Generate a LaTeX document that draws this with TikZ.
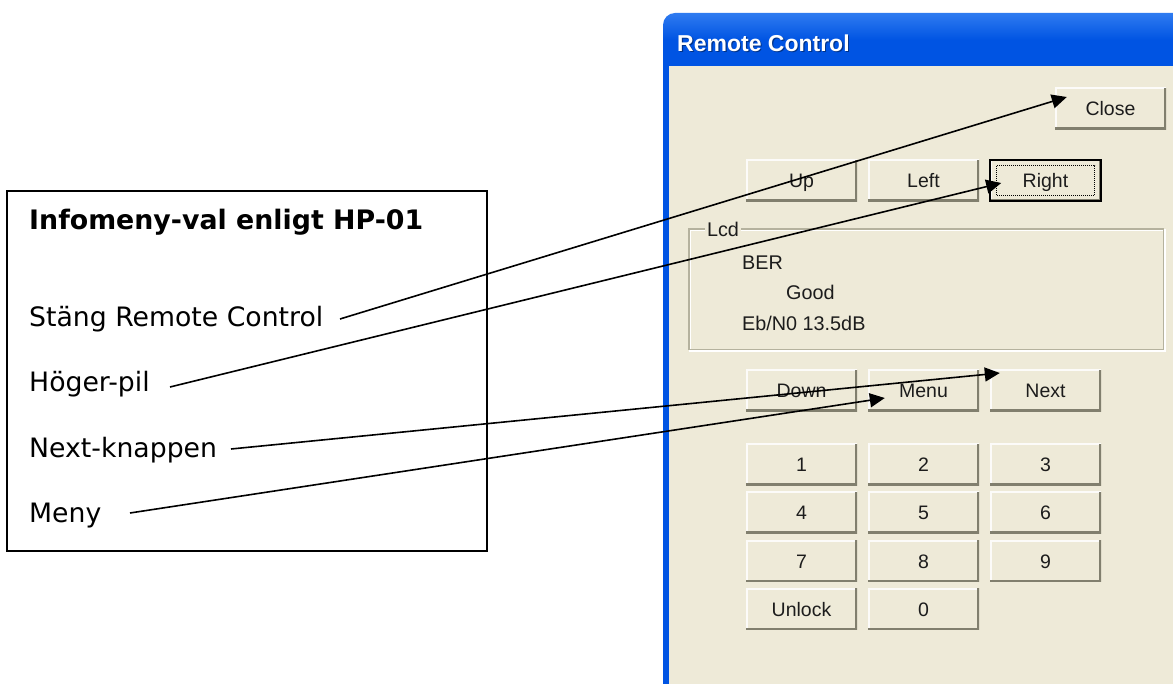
\documentclass[tikz,border=0pt]{standalone}
\usepackage{fontspec}
\setmainfont{Liberation Sans}
\newfontfamily\verd{DejaVu Sans}
\usetikzlibrary{arrows.meta,calc}
\definecolor{xpbg}{HTML}{EEEAD8}
\definecolor{xpblue}{HTML}{0054E3}
\definecolor{xplight}{HTML}{2F7BF0}
\definecolor{xpshadow}{HTML}{817F6E}
\definecolor{xpgroup}{HTML}{B5B29E}
\definecolor{xptext}{HTML}{1C1C1C}
\tikzset{
  x=1pt,y=-1pt,
  xpbutton/.style={fill=xpbg,minimum width=111pt,minimum height=41.5pt,inner sep=0pt,
    text=xptext,font=\fontsize{19.5}{21}\selectfont,text height=14pt,text depth=0pt,
    path picture={
      \draw[white,line width=3pt,opacity=.85]
        (path picture bounding box.south west) -- (path picture bounding box.north west) -- (path picture bounding box.north east);
      \draw[xpshadow,line width=4.5pt]
        (path picture bounding box.south west) -- (path picture bounding box.south east) -- (path picture bounding box.north east);
    }},
  focusbtn/.style={xpbutton,draw=black,line width=1.6pt},
  lcdtext/.style={anchor=base west,inner sep=0pt,text=xptext,font=\fontsize{19.8}{21}\selectfont},
  legendtext/.style={anchor=base west,inner sep=0pt,text=black,font=\verd\fontsize{26.7}{30}\selectfont},
  legendhead/.style={legendtext,font=\verd\bfseries\fontsize{26.8}{30}\selectfont},
  legendbox/.style={draw=black,line width=1.3pt,fill=white,minimum width=480pt,minimum height=360pt,inner sep=0pt},
  pointer/.style={draw=black,line width=1.6pt,-{Triangle[length=15pt,width=14pt]}},
}
\begin{document}
\begin{tikzpicture}
\useasboundingbox (0,0) rectangle (1173,684);
\fill[white] (0,0) rectangle (1173,684);
% window
\fill[xpblue] (663,40) rectangle (668.5,684);
\path[top color=xplight,bottom color=xpblue,middle color=xpblue]
  (663,67) -- (663,25) arc[start angle=180,end angle=270,radius=12] -- (1173,13) -- (1173,67) -- cycle;
\fill[xpbg] (668.5,66.5) rectangle (1173,684);
\node[anchor=base west,inner sep=0pt,text=black!40!xpblue,font=\bfseries\fontsize{23}{24}\selectfont] at (678.2,53) {Remote Control};
\node[anchor=base west,inner sep=0pt,text=white,font=\bfseries\fontsize{23}{24}\selectfont] (title) at (677,52) {Remote Control};
% buttons
\node[xpbutton] (close) at (1110.5,108.5) {Close};
\node[xpbutton] (up) at (801.5,180.5) {Up};
\node[xpbutton] (left) at (923.5,180.5) {Left};
\node[focusbtn] (right) at (1045.5,180.5) {Right};
\draw[black,line width=1pt,densely dotted] ([shift={(7,7)}]right.north west) rectangle ([shift={(-7,-7)}]right.south east);
\node[xpbutton] (down) at (801.5,390.5) {Down};
\node[xpbutton] (menu) at (923.5,390.5) {Menu};
\node[xpbutton] (next) at (1045.5,390.5) {Next};
\node[xpbutton] (b1) at (801.5,464.5) {1};
\node[xpbutton] (b2) at (923.5,464.5) {2};
\node[xpbutton] (b3) at (1045.5,464.5) {3};
\node[xpbutton] (b4) at (801.5,512.5) {4};
\node[xpbutton] (b5) at (923.5,512.5) {5};
\node[xpbutton] (b6) at (1045.5,512.5) {6};
\node[xpbutton] (b7) at (801.5,561) {7};
\node[xpbutton] (b8) at (923.5,561) {8};
\node[xpbutton] (b9) at (1045.5,561) {9};
\node[xpbutton] (unlock) at (801.5,609) {Unlock};
\node[xpbutton] (b0) at (923.5,609) {0};
% Lcd group
\draw[white,line width=1.2pt] (690,230) rectangle (1165,351);
\draw[xpgroup,line width=1.4pt] (689,229) rectangle (1163.5,349.5);
\node[anchor=center,fill=xpbg,inner xsep=2.5pt,inner ysep=1pt,text=xptext,font=\fontsize{19.8}{21}\selectfont] (lcd) at (723,229.5) {Lcd};
\node[lcdtext] (ber) at (742,270) {BER};
\node[lcdtext] (good) at (786,300) {Good};
\node[lcdtext] (ebno) at (742,331) {Eb/N0 13.5dB};
% legend
\node[legendbox] (box) at (247,371) {};
\node[legendhead] (head) at (29,230) {Infomeny-val enligt HP-01};
\node[legendtext] (stang) at (29,327) {Stäng Remote Control};
\node[legendtext] (hoger) at (29,392) {Höger-pil};
\node[legendtext] (nextk) at (29,457) {Next-knappen};
\node[legendtext] (meny) at (29,522) {Meny};
\coordinate (fromStang) at (340,319);
\coordinate (fromHoger) at (170,387);
\coordinate (fromNext) at (231,449);
\coordinate (fromMeny) at (130,513);
% connectors
\draw[pointer] (fromStang) -- ([shift={(12pt,11.5pt)}]close.west);
\draw[pointer] (fromHoger) -- ([shift={(12pt,-2.5pt)}]right.west);
\draw[pointer] (fromNext) -- ([shift={(10pt,17.5pt)}]next.west);
\draw[pointer] (fromMeny) -- ([shift={(17pt,-7.5pt)}]menu.west);
\end{tikzpicture}
\end{document}
